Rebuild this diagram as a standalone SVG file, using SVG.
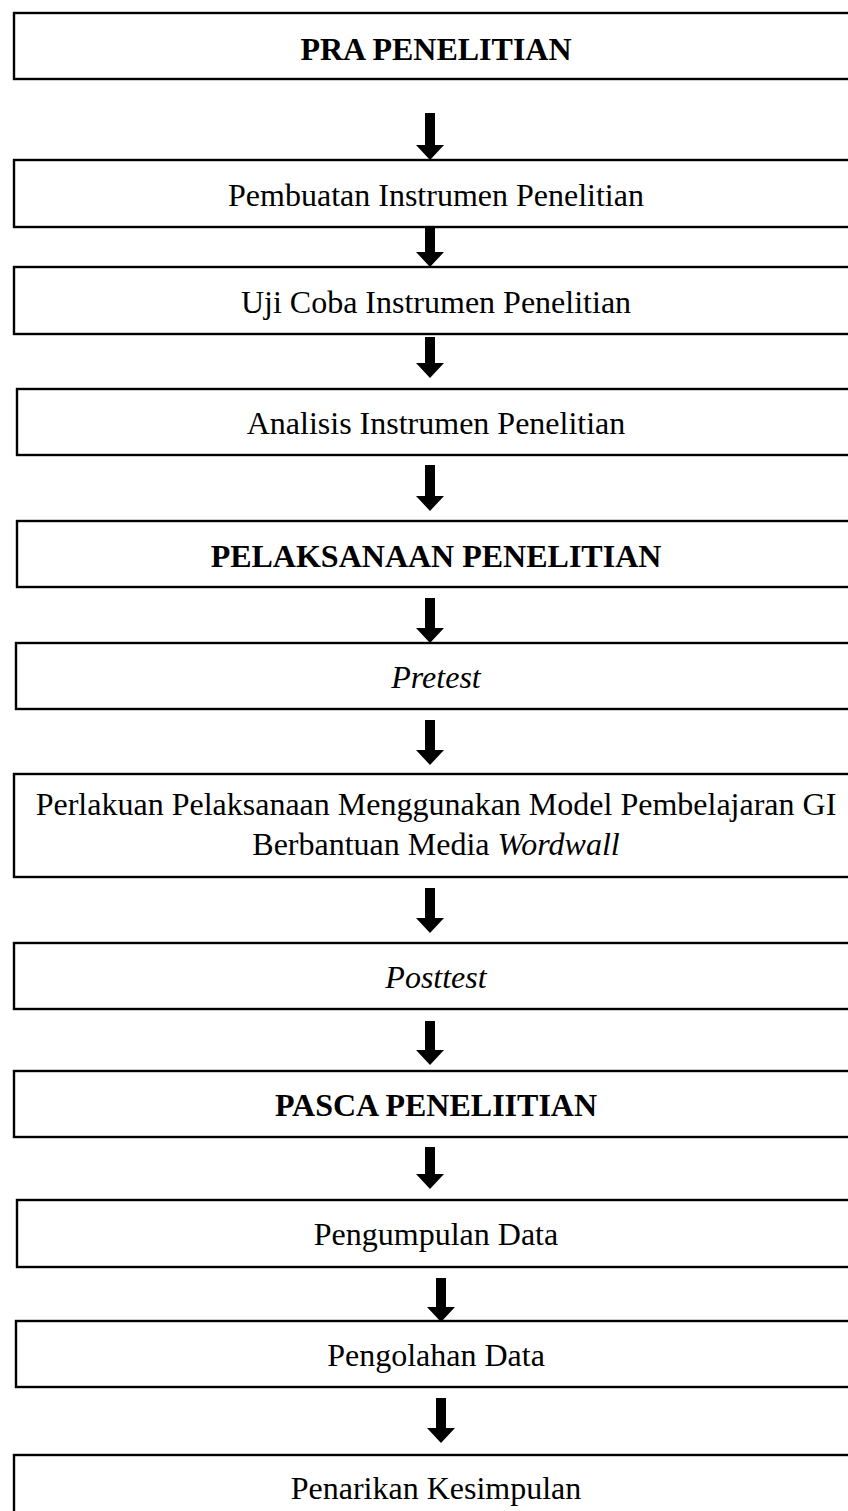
<svg xmlns="http://www.w3.org/2000/svg" width="848" height="1511" viewBox="0 0 848 1511">
<style>
.box{fill:#fff;stroke:#000;stroke-width:2.4}
.t{font-family:"Liberation Serif","Times New Roman",serif;font-size:32px;fill:#000;text-anchor:middle}
.b{font-weight:bold}
.i{font-style:italic}
.arr{fill:#000}
</style>
<rect width="848" height="1511" fill="#fff"/>
<g id="connectors">
<path class="arr" d="M425,113 H435 V145 H444 L430,160 L416,145 H425 Z"/>
<path class="arr" d="M425,227 H435 V252 H444 L430,267 L416,252 H425 Z"/>
<path class="arr" d="M425,337 H435 V363 H444 L430,378 L416,363 H425 Z"/>
<path class="arr" d="M425,465 H435 V496 H444 L430,511 L416,496 H425 Z"/>
<path class="arr" d="M425,598 H435 V628 H444 L430,643 L416,628 H425 Z"/>
<path class="arr" d="M425,720 H435 V750 H444 L430,765 L416,750 H425 Z"/>
<path class="arr" d="M425,888 H435 V918 H444 L430,933 L416,918 H425 Z"/>
<path class="arr" d="M425,1021 H435 V1050 H444 L430,1065 L416,1050 H425 Z"/>
<path class="arr" d="M425,1147 H435 V1174 H444 L430,1189 L416,1174 H425 Z"/>
<path class="arr" d="M436,1278 H446 V1307 H455 L441,1322 L427,1307 H436 Z"/>
<path class="arr" d="M436,1398 H446 V1428 H455 L441,1443 L427,1428 H436 Z"/>
</g>
<g id="n1"><rect class="box" x="14" y="13" width="850" height="66"/><text class="t b" x="436" y="60">PRA PENELITIAN</text></g>
<g id="n2"><rect class="box" x="14" y="160" width="850" height="67"/><text class="t" x="436" y="206">Pembuatan Instrumen Penelitian</text></g>
<g id="n3"><rect class="box" x="14" y="267" width="850" height="67"/><text class="t" x="436" y="313">Uji Coba Instrumen Penelitian</text></g>
<g id="n4"><rect class="box" x="17" y="389" width="850" height="66"/><text class="t" x="436" y="434">Analisis Instrumen Penelitian</text></g>
<g id="n5"><rect class="box" x="17" y="521" width="850" height="66"/><text class="t b" x="436" y="567">PELAKSANAAN PENELITIAN</text></g>
<g id="n6"><rect class="box" x="16" y="643" width="850" height="66"/><text class="t i" x="436" y="688">Pretest</text></g>
<g id="n7"><rect class="box" x="14" y="774" width="850" height="103"/><text class="t" x="436" y="815">Perlakuan Pelaksanaan Menggunakan Model Pembelajaran GI</text><text class="t" x="436" y="855">Berbantuan Media <tspan class="i">Wordwall</tspan></text></g>
<g id="n8"><rect class="box" x="14" y="943" width="850" height="66"/><text class="t i" x="436" y="988">Posttest</text></g>
<g id="n9"><rect class="box" x="14" y="1071" width="850" height="66"/><text class="t b" x="436" y="1116">PASCA PENELIITIAN</text></g>
<g id="n10"><rect class="box" x="17" y="1200" width="850" height="67"/><text class="t" x="436" y="1245">Pengumpulan Data</text></g>
<g id="n11"><rect class="box" x="16" y="1321" width="850" height="66"/><text class="t" x="436" y="1366">Pengolahan Data</text></g>
<g id="n12"><rect class="box" x="14" y="1455" width="850" height="80"/><text class="t" x="436" y="1499">Penarikan Kesimpulan</text></g>
</svg>
